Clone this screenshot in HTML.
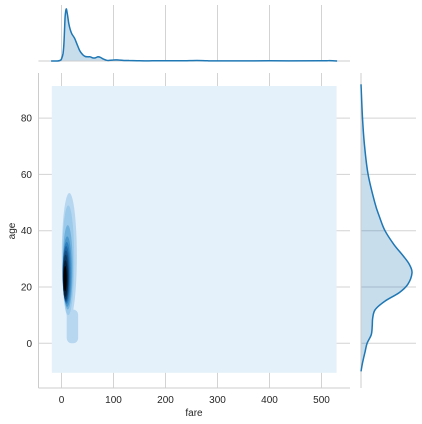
<!DOCTYPE html>
<html><head><meta charset="utf-8"><style>
body{margin:0;background:#fff;}
svg{display:block;font-family:"Liberation Sans",sans-serif;}
text{fill:#262626;font-size:10px;}
</style></head><body>
<svg id="c" width="422" height="424" viewBox="0 0 422 424"></svg>
<script>
const xTicks=[0,100,200,300,400,500];
const yTicks=[0,20,40,60,80];
const fareX=[-20,-8,-3,0,3,5,7,9,11,14,17,20,25,30,35,40,45,50,55,60,65,70,75,80,85,90,100,110,120,130,150,175,200,230,260,280,300,400,500,515,530];
const fareD=[0,0,0.01,0.04,0.15,0.4,0.85,1.0,0.92,0.72,0.6,0.52,0.44,0.32,0.2,0.13,0.09,0.08,0.08,0.06,0.06,0.08,0.07,0.04,0.02,0.01,0.02,0.02,0.01,0.01,0.005,0.003,0.006,0.004,0.01,0.003,0.002,0.003,0.003,0.008,0];
const ageY=[-10,-7,-3,0,3,6,9,12,15,18,21,25,28,31,35,40,45,50,60,70,80,92];
const ageD=[0,0.03,0.08,0.12,0.2,0.22,0.23,0.28,0.47,0.75,0.92,1.0,0.95,0.83,0.65,0.47,0.36,0.27,0.14,0.07,0.03,0];
// contour levels: center fare, center age, fare radius, age radius
const lvFare=[15,13,12,11,10,9,8.5,8,7.5,7];
const lvAge=[31,29.5,27,25.5,25,24.5,24,23.5,23,23];
const lvRx=[14.5,11.5,9.6,8.6,7.6,6.8,6,5.2,4.4,3];
const lvRy=[22.4,19.5,15,12.5,11,10,9,8,6.5,4.5];
const lvColor=['#b7d7f0','#9ccaea','#6fb0dc','#4b97cc','#2e7fbe','#1f66a3','#154f83','#0d375e','#061f38','#000'];

const svg=document.getElementById('c');const NS='http://www.w3.org/2000/svg';
const X=v=>61.5+v*0.52, Y=a=>343.3-a*2.815;
function el(t,a,p){const e=document.createElementNS(NS,t);for(const k in a)e.setAttribute(k,a[k]);(p||svg).appendChild(e);return e;}
function smooth(pts){let d='M'+pts[0][0].toFixed(1)+','+pts[0][1].toFixed(1);
for(let i=0;i<pts.length-1;i++){const p0=pts[Math.max(i-1,0)],p1=pts[i],p2=pts[i+1],p3=pts[Math.min(i+2,pts.length-1)];
d+=' C'+(p1[0]+(p2[0]-p0[0])/6).toFixed(1)+','+(p1[1]+(p2[1]-p0[1])/6).toFixed(1)+' '+(p2[0]-(p3[0]-p1[0])/6).toFixed(1)+','+(p2[1]-(p3[1]-p1[1])/6).toFixed(1)+' '+p2[0].toFixed(1)+','+p2[1].toFixed(1);}
return d;}
const grid='#d3d3d3';
xTicks.forEach(t=>{const l=el('line',{x1:X(t),x2:X(t),y1:73,y2:388,stroke:grid});

const g=el('line',{x1:X(t),x2:X(t),y1:5,y2:61,stroke:grid});

const tx=el('text',{x:X(t),y:403,'text-anchor':'middle'});tx.textContent=t;
});
yTicks.forEach(t=>{const l=el('line',{x1:38.5,x2:350,y1:Y(t),y2:Y(t),stroke:grid});

const g=el('line',{x1:361,x2:416,y1:Y(t),y2:Y(t),stroke:grid});

const tx=el('text',{x:32,y:Y(t)+3.5,'text-anchor':'end'});tx.textContent=t;
});
const bg=el('rect',{x:X(-18.6),y:Y(91.4),width:X(529)-X(-18.6),height:Y(-10.5)-Y(91.4),fill:'#e4f1fa'});

const lb=el('rect',{x:X(10),y:Y(12),width:X(32)-X(10),height:Y(0)-Y(12),rx:5,fill:lvColor[0]});

lvColor.forEach((c,i)=>{const e=el('ellipse',{cx:X(lvFare[i]),cy:Y(lvAge[i]),rx:lvRx[i]*0.52,ry:lvRy[i]*2.815,fill:c});
});
el('line',{x1:38.5,x2:38.5,y1:73,y2:388,stroke:'#ccc'});
el('line',{x1:38.5,x2:350,y1:388,y2:388,stroke:'#ccc'});
const fp=fareX.map((f,i)=>[X(f),61-fareD[i]*52]);
const d=smooth(fp);
const fa=el('path',{d:d+' L'+X(530)+',61 L'+X(-20)+',61Z',fill:'#1f77b4','fill-opacity':0.25});

el('line',{x1:38.5,x2:350,y1:61,y2:61,stroke:'#ccc'});
const fl=el('path',{d:d,fill:'none',stroke:'#1f77b4','stroke-width':1.5});

const ap=ageY.map((a,i)=>[361+ageD[i]*51,Y(a)]);
const d2=smooth(ap);
const aa=el('path',{d:d2+'Z',fill:'#1f77b4','fill-opacity':0.25});

el('line',{x1:361,x2:361,y1:73,y2:388,stroke:'#ccc'});
const al=el('path',{d:d2,fill:'none',stroke:'#1f77b4','stroke-width':1.5});

const xt=el('text',{x:194,y:416,'text-anchor':'middle'});xt.textContent='fare';

const yt=el('text',{x:0,y:0,'text-anchor':'middle',transform:'translate(15,231) rotate(-90)'});yt.textContent='age';

</script>
</body></html>
